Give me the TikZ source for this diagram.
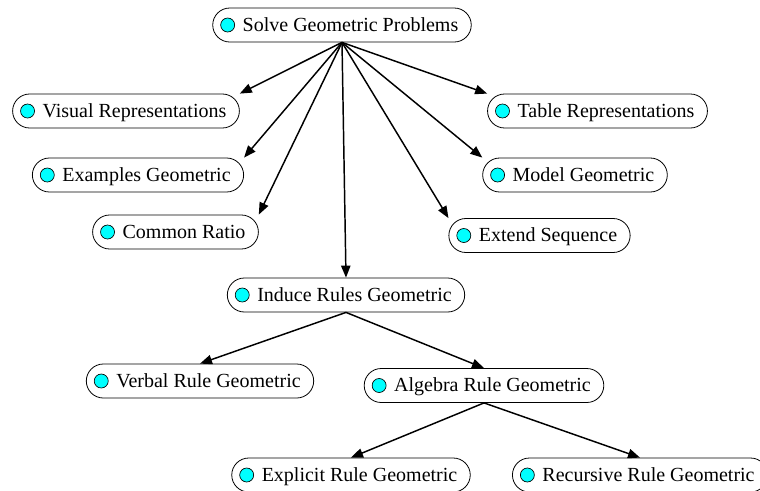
\documentclass[tikz,border=0pt]{standalone}
\usepackage{fontspec}
\setmainfont{Liberation Serif}
\usetikzlibrary{arrows.meta}
\definecolor{beadcyan}{RGB}{0,255,255}
\begin{document}
\begin{tikzpicture}[x=0.75pt, y=-0.75pt,
		topic/.style={draw, line width=0.6pt, rounded corners=12.75pt, minimum height=25.5pt,
			inner xsep=9.75pt, inner ysep=0pt, text height=12pt, text depth=3pt,
			font=\fontsize{15pt}{18pt}\selectfont,
			execute at begin node={\hspace*{12.75pt}}, label={[bead]west:{}}},
		bead/.style={circle, draw, line width=0.5pt, fill=beadcyan, minimum size=10.5pt, inner sep=0pt,
			text height=0pt, text depth=0pt, execute at begin node={}, anchor=west, xshift=6pt},
		link/.style={line width=1.1pt, -{Triangle[length=9pt,width=7pt]}}]
		\useasboundingbox (0,0) rectangle (760,490);
		
		%root
		\node[topic] (solve) at (342,25) {Solve Geometric Problems};
		
		%first level, left and right
		\node[topic] (visual) at (126,111) {Visual Representations};
		\node[topic] (examples) at (138,175) {Examples Geometric};
		\node[topic] (common) at (175.5,232) {Common Ratio};
		\node[topic] (table) at (597.5,111) {Table Representations};
		\node[topic] (model) at (575,175) {Model Geometric};
		\node[topic] (extend) at (539.5,235.5) {Extend Sequence};
		\node[topic] (induce) at (346,295) {Induce Rules Geometric};
		
		%rules
		\node[topic] (verbal) at (200,381) {Verbal Rule Geometric};
		\node[topic] (algebra) at (484,385.5) {Algebra Rule Geometric};
		\node[topic] (explicit) at (351,475) {Explicit Rule Geometric};
		\node[topic] (recursive) at (640,475) {Recursive Rule Geometric};
		
		%edges
		\foreach \n in {visual, examples, common}{
			\draw[link] (solve.south) -- (\n.north east);
		}
		\foreach \n in {table, model, extend}{
			\draw[link] (solve.south) -- (\n.north west);
		}
		\draw[link] (solve.south) -- (induce.north);
		\draw[link] (induce.south) -- (verbal.north);
		\draw[link] (induce.south) -- (algebra.north);
		\draw[link] (algebra.south) -- (explicit.north);
		\draw[link] (algebra.south) -- (recursive.north);
\end{tikzpicture}
\end{document}
